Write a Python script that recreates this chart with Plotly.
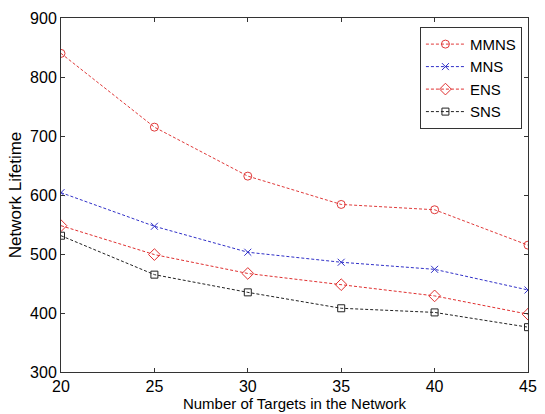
import plotly.graph_objects as go

targets = [20, 25, 30, 35, 40, 45]
mmns = [840, 715, 632, 584, 575, 515]
mns = [604, 547, 503, 486, 474, 439]
ens = [548, 499, 467, 448, 429, 398]
sns = [531, 465, 435, 408, 401, 376]

x_ticks = [20, 25, 30, 35, 40, 45]
y_ticks = [300, 400, 500, 600, 700, 800, 900]

series = [
    ("MMNS", mmns, "#e03a3a", "circle-open", 8),
    ("MNS", mns, "#3030c8", "x-thin-open", 7),
    ("ENS", ens, "#e03030", "diamond-open", 9),
    ("SNS", sns, "#222222", "square-open", 7),
]

fig = go.Figure()
for name, vals, color, sym, size in series:
    fig.add_trace(go.Scatter(
        x=targets, y=vals, name=name, mode="lines+markers",
        line=dict(color=color, width=1, dash="3px,2px"),
        marker=dict(symbol=sym, size=size, color=color, line=dict(color=color, width=1)),
    ))

fam = "Liberation Sans, Arial, sans-serif"
tick_font = dict(family=fam, size=16, color="black")
title_font = dict(family=fam, size=15, color="black")
ytitle_font = dict(family=fam, size=17, color="black")
axis_common = dict(
    showgrid=False, zeroline=False, showline=True, linecolor="#333", linewidth=1,
    mirror="ticks", ticks="inside", ticklen=4, tickcolor="#333",
    tickfont=tick_font,
)
fig.update_layout(
    width=545, height=414,
    margin=dict(l=61, r=8, t=18, b=38),
    paper_bgcolor="white", plot_bgcolor="white",
    font=title_font,
    xaxis=dict(range=[20, 45], tickvals=x_ticks,
               title=dict(text="Number of Targets in the Network", font=title_font, standoff=0),
               **axis_common),
    yaxis=dict(range=[300, 900], tickvals=y_ticks,
               title=dict(text="Network Lifetime", font=ytitle_font, standoff=4),
               **axis_common),
    legend=dict(x=0.987, y=0.975, xanchor="right", yanchor="top",
                bgcolor="white", bordercolor="#333", borderwidth=1,
                font=dict(family=fam, size=15, color="black"),
                tracegroupgap=0, itemwidth=39),
    showlegend=True,
)
fig.write_html("out.html", config={"displayModeBar": False},
               post_script="document.body.style.margin='0';")
